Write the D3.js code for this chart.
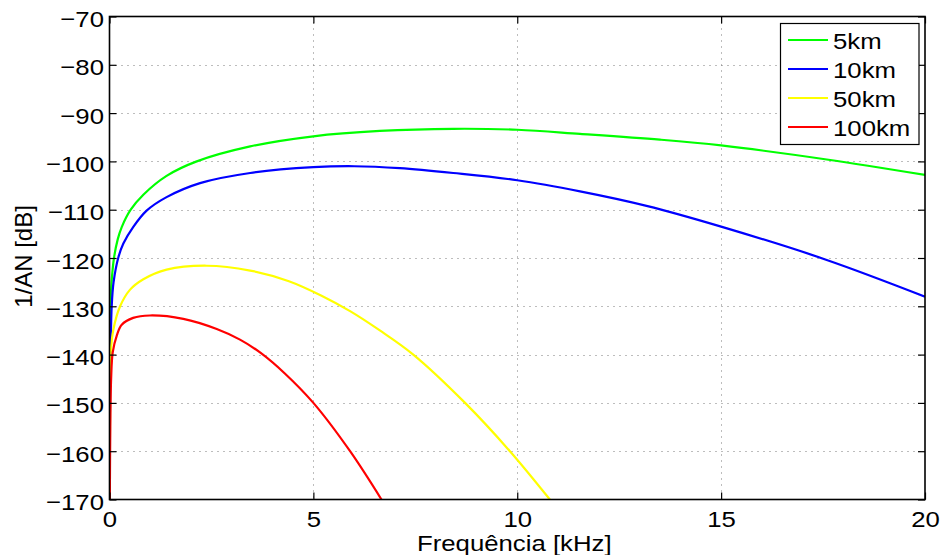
<!DOCTYPE html>
<html>
<head>
<meta charset="utf-8">
<script src="https://cdn.jsdelivr.net/npm/d3@7"></script>
<style>
  html, body { margin: 0; padding: 0; background: #fff; }
  svg { display: block; }
  text { font-family: "Liberation Sans", Arial, Helvetica, sans-serif; fill: #000; }
</style>
</head>
<body>
<svg id="chart" width="941" height="555"></svg>
<script>
// ---- Data ----
const seriesNames = ["5km", "10km", "50km", "100km"];
const seriesColors = ["#00ff00", "#0000ff", "#ffff00", "#ff0000"];

// frequency [kHz] and 1/AN [dB] for each series
const freq5 = [0.002, 0.005, 0.012, 0.025, 0.05, 0.11, 0.2, 0.3, 0.52, 0.83, 1.4, 2.14, 3.45, 5, 6.63, 8.43, 10, 11.54, 13.5, 15, 17.59, 20];
const val5  = [-170, -158, -142, -130, -125.1, -120, -116.2, -113.6, -110, -106.9, -103.0, -100, -96.9, -94.8, -93.7, -93.25, -93.45, -94.3, -95.5, -96.7, -99.6, -102.8];

const freq10 = [0.003, 0.006, 0.014, 0.03, 0.054, 0.1, 0.22, 0.34, 0.58, 0.91, 1.4, 2.22, 3.45, 5, 6, 7.12, 8.43, 10, 11.54, 13.17, 15, 17.59, 20];
const val10  = [-170, -160, -148, -138, -130, -125, -119.8, -117, -113.6, -110.2, -107.4, -104.5, -102.4, -101.2, -101.0, -101.4, -102.4, -103.9, -106.2, -109.2, -113.5, -120.4, -128.0];

const freq50 = [0.005, 0.012, 0.03, 0.093, 0.26, 0.5, 0.83, 1.4, 2.38, 3.45, 4.4, 5.2, 5.9, 6.63, 7.45, 8.72, 9.82, 10.8];
const val50  = [-170, -155, -139.6, -134.9, -130, -126.6, -124.4, -122.4, -121.6, -122.6, -124.8, -127.8, -131.0, -135.0, -140, -150, -160, -170];

const freq100 = [0.008, 0.02, 0.04, 0.08, 0.18, 0.3, 0.58, 0.99, 1.81, 2.63, 3.2, 3.7, 4.3, 5.0, 5.9, 6.67];
const val100  = [-170, -155, -145, -139.5, -136, -133.8, -132.4, -131.9, -132.6, -134.7, -136.9, -139.6, -143.9, -150, -160, -170];

const xTicks = [0, 5, 10, 15, 20];
const yTicks = [-70, -80, -90, -100, -110, -120, -130, -140, -150, -160, -170];
const xLabel = "Frequência [kHz]";
const yLabel = "1/AN [dB]";

// ---- Layout ----
const svg = d3.select("#chart");
const W = 941, H = 555;
const plot = { left: 109.5, top: 16.5, right: 925, bottom: 499.5 };
const FS = 23, STRETCH = 1.12;

svg.append("rect").attr("width", W).attr("height", H).attr("fill", "#fff");

const x = d3.scaleLinear().domain([0, 20]).range([plot.left, plot.right]);
const y = d3.scaleLinear().domain([-170, -70]).range([plot.bottom, plot.top]);

// grid
const grid = svg.append("g").attr("stroke", "#7a7a7a").attr("stroke-width", 1)
  .attr("stroke-dasharray", "1,5");
grid.selectAll("line.vx").data(xTicks.filter(d => d > 0 && d < 20)).join("line")
  .attr("x1", d => Math.round(x(d)) + 0.5).attr("x2", d => Math.round(x(d)) + 0.5)
  .attr("y1", plot.top).attr("y2", plot.bottom);
grid.selectAll("line.hy").data(yTicks.filter(d => d > -170 && d < -70)).join("line")
  .attr("y1", d => Math.round(y(d)) + 0.5).attr("y2", d => Math.round(y(d)) + 0.5)
  .attr("x1", plot.left).attr("x2", plot.right);

// curves
svg.append("clipPath").attr("id", "clip").append("rect")
  .attr("x", plot.left).attr("y", plot.top)
  .attr("width", plot.right - plot.left).attr("height", plot.bottom - plot.top);

const seriesData = [
  d3.zip(freq5, val5), d3.zip(freq10, val10), d3.zip(freq50, val50), d3.zip(freq100, val100)
];
const line = d3.line().x(d => x(d[0])).y(d => y(d[1])).curve(d3.curveCatmullRom.alpha(0.5));
svg.append("g").attr("clip-path", "url(#clip)")
  .selectAll("path").data(seriesData).join("path")
  .attr("fill", "none")
  .attr("stroke", (d, i) => seriesColors[i])
  .attr("stroke-width", 2.2)
  .attr("stroke-linejoin", "round")
  .attr("d", line);

// axes (ticks inward on all four sides)
const TK = 7;
const axB = svg.append("g").attr("transform", `translate(0,${plot.bottom})`)
  .call(d3.axisBottom(x).tickValues(xTicks).tickSizeInner(-TK).tickSizeOuter(0).tickFormat(d3.format("d")));
axB.selectAll("text").attr("y", 0).attr("dy", 0)
  .attr("transform", `translate(0,27.5) scale(${STRETCH},1)`);
const axT = svg.append("g").attr("transform", `translate(0,${plot.top})`)
  .call(d3.axisTop(x).tickValues(xTicks).tickSizeInner(-TK).tickSizeOuter(0).tickFormat(""));
const axL = svg.append("g").attr("transform", `translate(${plot.left},0)`)
  .call(d3.axisLeft(y).tickValues(yTicks).tickSizeInner(-TK).tickSizeOuter(0)
    .tickFormat(d => d3.format("d")(d).replace("-", "\u2212")));
axL.selectAll("text").attr("x", 0).attr("dy", 0)
  .attr("transform", `translate(-5.5,10) scale(${STRETCH},1)`);
const axR = svg.append("g").attr("transform", `translate(${plot.right},0)`)
  .call(d3.axisRight(y).tickValues(yTicks).tickSizeInner(-TK).tickSizeOuter(0).tickFormat(""));

[axB, axT, axL, axR].forEach(a => {
  a.select(".domain").remove();
  a.selectAll(".tick line").attr("stroke", "#000").attr("stroke-width", 1.2);
  a.selectAll("text").attr("font-size", FS).attr("font-family", "Liberation Sans, Arial, sans-serif").attr("fill", "#000");
});

// frame
svg.append("rect")
  .attr("x", plot.left).attr("y", plot.top)
  .attr("width", plot.right - plot.left).attr("height", plot.bottom - plot.top)
  .attr("fill", "none").attr("stroke", "#000").attr("stroke-width", 1.6);

// axis labels
svg.append("text")
  .attr("transform", `translate(${(plot.left + plot.right) / 2 - 3},551) scale(${STRETCH},1)`)
  .attr("text-anchor", "middle").attr("font-size", FS).text(xLabel);
svg.append("text")
  .attr("transform", `translate(32,256.5) rotate(-90)`)
  .attr("text-anchor", "middle").attr("font-size", 24).text(yLabel);

// legend
const lg = svg.append("g");
lg.append("rect").attr("x", 780.5).attr("y", 23.5).attr("width", 138.5).attr("height", 121)
  .attr("fill", "#fff").attr("stroke", "#000").attr("stroke-width", 1.2);
const rowY = [40, 69, 98, 127];
seriesNames.forEach((name, i) => {
  lg.append("line").attr("x1", 788).attr("x2", 828).attr("y1", rowY[i]).attr("y2", rowY[i])
    .attr("stroke", seriesColors[i]).attr("stroke-width", 2.2);
  lg.append("text").attr("transform", `translate(833,${rowY[i] + 8.5}) scale(${STRETCH},1)`)
    .attr("font-size", FS).text(name);
});
</script>
</body>
</html>
